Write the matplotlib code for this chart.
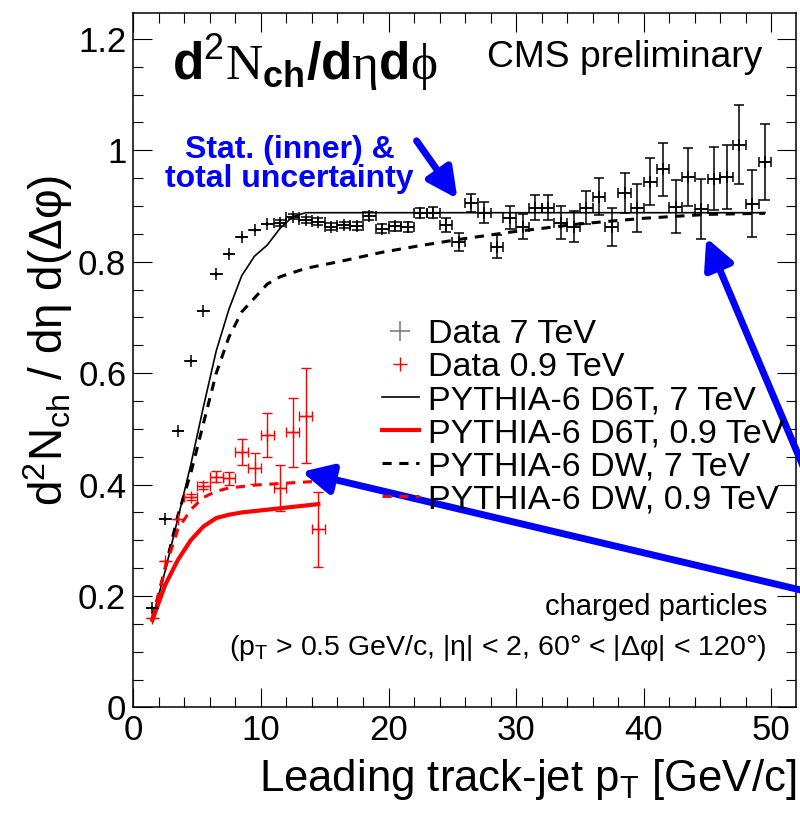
import matplotlib
matplotlib.use('Agg')
import matplotlib.pyplot as plt
from matplotlib.lines import Line2D
from matplotlib.ticker import MultipleLocator, FuncFormatter

plt.rcParams['font.family'] = ['Liberation Sans', 'DejaVu Sans']
plt.rcParams['mathtext.fontset'] = 'custom'
plt.rcParams['mathtext.rm'] = 'Liberation Serif'
plt.rcParams['mathtext.sf'] = 'Liberation Sans'
plt.rcParams['mathtext.bf'] = 'Liberation Sans:bold'
plt.rcParams['mathtext.it'] = 'Liberation Sans:italic'

# Data 7 TeV: leading track-jet pT (bin centres), density, total uncertainty
pt_7 = [1.5, 2.5, 3.5, 4.5, 5.5, 6.5, 7.5, 8.5, 9.5, 10.5,
        11.5, 12.5, 13.5, 14.5, 15.5, 16.5, 17.5, 18.5, 19.5, 20.5,
        21.5, 22.5, 23.5, 24.5, 25.5, 26.5, 27.5, 28.5, 29.5, 30.5,
        31.5, 32.5, 33.5, 34.5, 35.5, 36.5, 37.5, 38.5, 39.5, 40.5,
        41.5, 42.5, 43.5, 44.5, 45.5, 46.5, 47.5, 48.5, 49.5]
dens_7 = [0.179, 0.338, 0.497, 0.622, 0.712, 0.778, 0.814, 0.845, 0.857, 0.868,
          0.870, 0.881, 0.875, 0.872, 0.863, 0.866, 0.864, 0.882, 0.859, 0.864,
          0.863, 0.888, 0.888, 0.866, 0.836, 0.906, 0.888, 0.827, 0.879, 0.863,
          0.897, 0.897, 0.870, 0.863, 0.897, 0.917, 0.863, 0.924, 0.897, 0.944,
          0.966, 0.899, 0.952, 0.895, 0.949, 0.952, 1.010, 0.904, 0.979]
err_7 = [0.003, 0.003, 0.003, 0.003, 0.003, 0.003, 0.004, 0.004, 0.004, 0.004,
         0.005, 0.005, 0.005, 0.006, 0.006, 0.006, 0.007, 0.007, 0.008, 0.008,
         0.009, 0.009, 0.010, 0.012, 0.016, 0.016, 0.019, 0.021, 0.021, 0.022,
         0.022, 0.022, 0.030, 0.028, 0.030, 0.033, 0.034, 0.036, 0.043, 0.043,
         0.048, 0.048, 0.052, 0.054, 0.057, 0.058, 0.071, 0.060, 0.068]

# Data 0.9 TeV
pt_09 = [1.5, 2.5, 3.5, 4.5, 5.5, 6.5, 7.5, 8.5, 9.5, 10.5, 11.5, 12.5, 13.5, 14.5]
dens_09 = [0.160, 0.262, 0.338, 0.378, 0.398, 0.414, 0.411, 0.459, 0.429, 0.489,
           0.394, 0.494, 0.524, 0.320]
err_09 = [0.004, 0.004, 0.004, 0.005, 0.006, 0.010, 0.011, 0.023, 0.028, 0.039,
          0.042, 0.062, 0.086, 0.067]

# PYTHIA-6 curves
d6t_7_x = [1.5, 2.5, 3.5, 4.5, 5.5, 6.5, 7.5, 8.5, 9.5, 10.5, 11.5, 12.5, 13.5, 49.5]
d6t_7_y = [0.160, 0.245, 0.340, 0.435, 0.540, 0.640, 0.715, 0.775, 0.810, 0.830,
           0.860, 0.881, 0.888, 0.888]
dw_7_x = [1.5, 2.5, 3.5, 4.5, 5.5, 6.5, 7.5, 8.5, 9.5, 10.5, 11.5, 13.5, 16.5,
          19.5, 22.5, 25.5, 29.5, 35.0, 40.0, 45.0, 49.5]
dw_7_y = [0.160, 0.250, 0.345, 0.420, 0.510, 0.600, 0.665, 0.710, 0.735, 0.760,
          0.773, 0.788, 0.802, 0.817, 0.829, 0.840, 0.853, 0.868, 0.878, 0.885, 0.887]
d6t_09_x = [1.5, 2.5, 3.5, 4.5, 5.5, 6.5, 7.5, 8.5, 10.5, 12.5, 14.5]
d6t_09_y = [0.157, 0.220, 0.265, 0.300, 0.325, 0.340, 0.346, 0.350, 0.355, 0.360, 0.365]
dw_09_x = [1.5, 2.5, 3.5, 4.5, 5.5, 6.5, 7.5, 9.5, 11.5, 14.5]
dw_09_y = [0.160, 0.250, 0.320, 0.355, 0.377, 0.388, 0.394, 0.399, 0.402, 0.406]

fig = plt.figure(figsize=(8, 8.13), dpi=100)
ax = fig.add_axes([0.1666, 0.1298, 0.8284, 0.8546])

ax.plot(d6t_7_x, d6t_7_y, color='black', lw=1.2)
ax.plot(dw_7_x, dw_7_y, color='black', lw=2.2, ls=(0, (3, 2.5)))
ax.plot(d6t_09_x, d6t_09_y, color='red', lw=3)
ax.plot(dw_09_x, dw_09_y, color='red', lw=2.2, ls=(0, (3, 2.5)))


def draw_points(x, y, err, color, lw):
    # errors hidden inside the marker are drawn without caps, like ROOT does
    for small in (True, False):
        idx = [i for i in range(len(x)) if (err[i] < 0.005) == small]
        if not idx:
            continue
        ax.errorbar([x[i] for i in idx], [y[i] for i in idx], xerr=0.5,
                    yerr=[err[i] for i in idx], fmt='+', color=color, ms=9,
                    mew=lw, elinewidth=lw, capthick=lw,
                    capsize=0 if small else 3.6)


draw_points(pt_7, dens_7, err_7, 'black', 1.1)
draw_points(pt_09, dens_09, err_09, 'red', 1.0)

ax.set_xlim(0, 51.93)
ax.set_ylim(0, 1.247)
ax.xaxis.set_major_locator(MultipleLocator(10))
ax.xaxis.set_minor_locator(MultipleLocator(2))
ax.yaxis.set_major_locator(MultipleLocator(0.2))
ax.yaxis.set_minor_locator(MultipleLocator(0.05))
ax.yaxis.set_major_formatter(FuncFormatter(lambda v, p: '%g' % round(v, 2)))
ax.tick_params(which='both', direction='in', top=True, right=True, width=0.8,
               labelsize=25, pad=5)
ax.tick_params(which='major', length=14)
ax.tick_params(which='minor', length=7)
for s in ax.spines.values():
    s.set_linewidth(1.1)

ax.set_xlabel(r'Leading track-jet p$_{\mathsf{T}}$ [GeV/c]', fontsize=31.5,
              ha='right', va='center')
ax.xaxis.set_label_coords(1.0, -0.103)
ax.set_ylabel(r'd$^{\mathsf{2}}$N$_{\mathsf{ch}}$ / dη d(Δφ)', fontsize=33,
              ha='center', va='center')
ax.yaxis.set_label_coords(-0.128, 0.528)

ax.text(3.0, 1.158, r'$\mathbf{d}^{\mathsf{2}}\mathrm{N}_{\mathbf{ch}}\mathbf{/d}\mathrm{\eta}\mathbf{d}\mathrm{\phi}$',
        fontsize=37, ha='left', va='center')
ax.text(27.7, 1.166, 'CMS preliminary', fontsize=26.8, ha='left', va='center')
ax.text(12.25, 0.975, 'Stat. (inner) &\ntotal uncertainty', fontsize=23,
        fontweight='bold', color='blue', ha='center', va='center', linespacing=0.95)
ax.text(49.65, 0.181, 'charged particles', fontsize=21, ha='right', va='center')
ax.text(49.65, 0.107, r'(p$_{\mathsf{T}}$ > 0.5 GeV/c, |η| < 2, 60° < |Δφ| < 120°)',
        fontsize=20.5, ha='right', va='center')

handles = [
    Line2D([], [], ls='none', marker='+', color='#808080', ms=14, mew=1.2),
    Line2D([], [], ls='none', marker='+', color='red', ms=10, mew=1.0),
    Line2D([], [], color='black', lw=1.2),
    Line2D([], [], color='red', lw=3),
    Line2D([], [], color='black', lw=2.2, ls=(0, (3, 2.5))),
    Line2D([], [], color='red', lw=2.2, ls=(0, (3, 2.5))),
]
labels = ['Data 7 TeV', 'Data 0.9 TeV', 'PYTHIA-6 D6T, 7 TeV',
          'PYTHIA-6 D6T, 0.9 TeV', 'PYTHIA-6 DW, 7 TeV', 'PYTHIA-6 DW, 0.9 TeV']
ax.legend(handles, labels, loc='upper left', bbox_to_anchor=(0.375, 0.559),
          frameon=False, fontsize=24.5, borderpad=0, borderaxespad=0,
          handlelength=1.08, handletextpad=0.28, labelspacing=0.06)

arrow = dict(arrowstyle='-|>,head_length=0.9,head_width=0.45', color='blue',
             lw=5, mutation_scale=20, shrinkA=0, shrinkB=0)
ax.annotate('', xy=(25.4, 0.913), xytext=(22.2, 1.017), arrowprops=arrow,
            annotation_clip=False)
ax.annotate('', xy=(44.9, 0.843), xytext=(53.0, 0.405), arrowprops=arrow,
            annotation_clip=False)
ax.annotate('', xy=(13.2, 0.423), xytext=(53.0, 0.207), arrowprops=arrow,
            annotation_clip=False)

fig.savefig('out.png', dpi=100)
